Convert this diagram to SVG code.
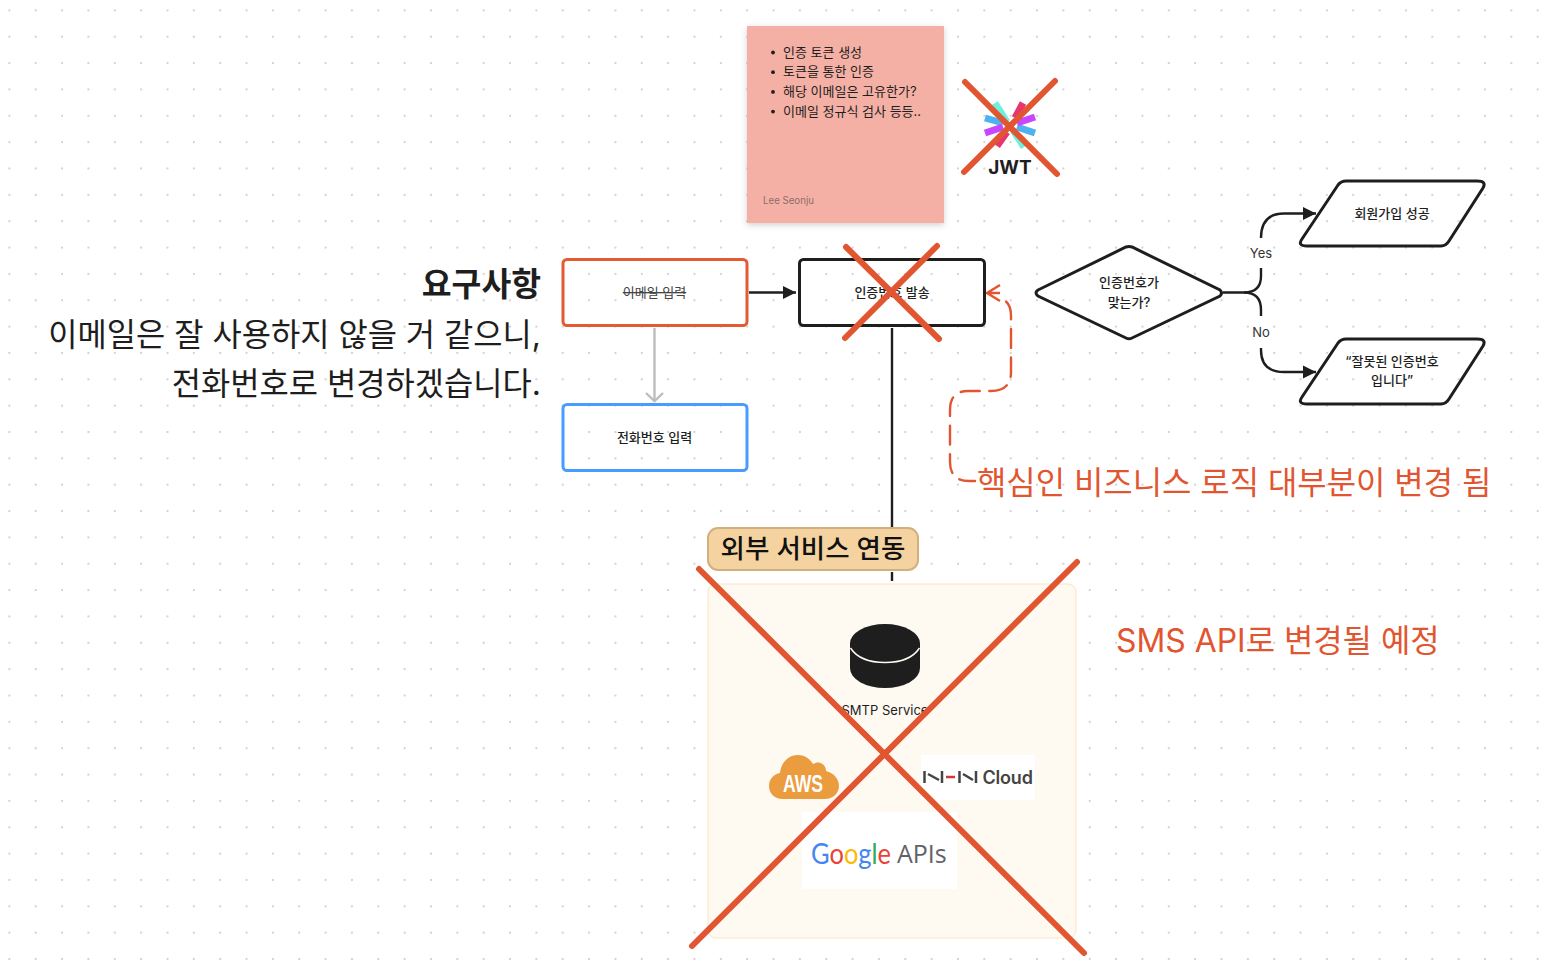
<svg xmlns="http://www.w3.org/2000/svg" width="1562" height="976" viewBox="0 0 1562 976">
<defs>
<pattern id="dots" x="8.4" y="9.4" width="26.35" height="26.35" patternUnits="userSpaceOnUse"><circle cx="1" cy="1" r="1.100" fill="#cfcfcf"/></pattern>
<filter id="sh" x="-10%" y="-10%" width="120%" height="120%"><feDropShadow dx="0" dy="2" stdDeviation="3" flood-color="#000" flood-opacity="0.18"/></filter>
<marker id="tri" markerUnits="userSpaceOnUse" markerWidth="14" markerHeight="14" refX="13" refY="7" orient="auto"><path d="M0,0.5 L13,7 L0,13.5 Z" fill="#1e1e1e"/></marker>
<marker id="grayChev" markerUnits="userSpaceOnUse" markerWidth="22" markerHeight="14" refX="11" refY="11" orient="0"><path d="M2.5,3 L11,11 L19.5,3" fill="none" stroke="#bdbdbd" stroke-width="2.400"/></marker>
</defs>
<style>
text{font-family:"Inter","Noto Sans CJK KR","Noto Sans",sans-serif;fill:#1e1e1e}
.n{font-size:13px;font-weight:500;text-anchor:middle}
.big{font-size:31.800px;font-weight:400;text-anchor:end}
.red{font-size:31.900px;font-weight:400;fill:#e15631}
.box{fill:none;stroke-width:3}
.k{stroke:#1e1e1e}
.cross{stroke:#e15631;stroke-linecap:round;fill:none}
.line{fill:none;stroke:#1e1e1e;stroke-width:2.400}
.bul{font-size:13px;font-weight:400}
.jr{stroke-width:7;fill:none}
</style>
<rect width="1562" height="976" fill="#fff"/>
<rect width="1562" height="976" fill="url(#dots)"/>

<g id="req-text">
<text x="541" y="296" class="big" style="font-weight:700;font-size:32.400px">요구사항</text>
<text x="541" y="345.500" class="big">이메일은 잘 사용하지 않을 거 같으니,</text>
<text x="541" y="394.500" class="big">전화번호로 변경하겠습니다.</text>
</g>

<g id="sticky">
<rect x="747" y="26" width="197" height="197" fill="#f5b0a5" filter="url(#sh)"/>
<circle cx="773" cy="52.500" r="1.900" fill="#1e1e1e"/><circle cx="773" cy="72.200" r="1.900" fill="#1e1e1e"/><circle cx="773" cy="91.900" r="1.900" fill="#1e1e1e"/><circle cx="773" cy="111.600" r="1.900" fill="#1e1e1e"/>
<text x="783" y="56.500" class="bul">인증 토큰 생성</text>
<text x="783" y="76.200" class="bul">토큰을 통한 인증</text>
<text x="783" y="95.900" class="bul">해당 이메일은 고유한가?</text>
<text x="783" y="115.600" class="bul">이메일 정규식 검사 등등..</text>
<text x="763" y="204" style="font-size:9.700px;fill:#8f6d68">Lee Seonju</text>
</g>

<g id="jwt">
<path class="jr" stroke="#6ef0e0" d="M995,103 L1007,122 M1013,130 L1024,147"/>
<path class="jr" stroke="#e8356f" d="M1023,103 L1015,118 M997,146 L1007,132"/>
<path class="jr" stroke="#4db3f0" d="M985,118 L1003,123 M1017,127 L1035,133"/>
<path class="jr" stroke="#c846ff" d="M985,133 L1003,127 M1035,117 L1017,123"/>
<text x="1010" y="174" text-anchor="middle" style="font-size:19px;font-weight:700">JWT</text>
</g>

<g id="connectors">
<path class="line" d="M749,292.500 H796" marker-end="url(#tri)"/>
<path d="M654.500,328 V401" fill="none" stroke="#bdbdbd" stroke-width="2.400" marker-end="url(#grayChev)"/>
<path class="line" d="M892,328 V527 M892,572 V581"/>
<path d="M1006,301.500 Q1011,306 1011,316 V372 Q1011,391 991,391 H968 Q950,391 950,410 V462 Q950,481 969,481 H975" fill="none" stroke="#e15631" stroke-width="2.400" stroke-dasharray="19 9.600" stroke-linecap="round"/>
<path d="M1000,285 L987,293 L1000,301 M987,293 H1000" fill="none" stroke="#e15631" stroke-width="2.400"/>
<path class="line" d="M1223,292.500 H1244 Q1261,292.500 1261,276 V268 M1261,238 Q1261,213.500 1284,213.500 H1316" marker-end="url(#tri)"/>
<path class="line" d="M1244,292.500 Q1261,292.500 1261,310 V316 M1261,348 V350 Q1261,372 1284,372 H1316" marker-end="url(#tri)"/>
<text x="1261" y="258" text-anchor="middle" style="font-size:13px;fill:#333">Yes</text>
<text x="1261" y="337" text-anchor="middle" style="font-size:13px;fill:#333">No</text>
</g>

<g id="email"><rect x="563" y="259.500" width="184" height="66" rx="4" class="box" stroke="#e35a33"/><text x="654.500" y="297" text-anchor="middle" text-decoration="line-through" style="font-size:13px;fill:#444">이메일 입력</text></g>
<g id="phone"><rect x="563" y="404.500" width="184" height="66" rx="4" class="box" stroke="#4a9bff"/><text x="654.500" y="442" class="n">전화번호 입력</text></g>
<g id="auth"><rect x="799.500" y="259.500" width="185" height="66" rx="4" class="box k"/><text x="892" y="297" class="n">인증번호 발송</text></g>
<g id="decision"><path d="M1038,290 L1126,247 Q1129,246 1132,247 L1220,290 Q1223,293 1220,296 L1132,338 Q1129,339.500 1126,338 L1038,296 Q1034,293 1038,290 Z" class="box k"/><text x="1129" y="287" class="n">인증번호가</text><text x="1129" y="307" class="n">맞는가?</text></g>
<g id="success"><path d="M1346,181 H1477 Q1487,181 1483,188 L1449,241 Q1446,246 1441,246 H1307 Q1297,246 1302,239 L1338,185 Q1341,181 1346,181 Z" class="box k"/><text x="1392" y="218" class="n">회원가입 성공</text></g>
<g id="fail"><path d="M1346,339 H1477 Q1487,339 1483,346 L1449,399 Q1446,404 1441,404 H1307 Q1297,404 1302,397 L1338,343 Q1341,339 1346,339 Z" class="box k"/><text x="1392" y="366" class="n">“잘못된 인증번호</text><text x="1392" y="385" class="n">입니다”</text></g>

<g id="external">
<rect x="708" y="584" width="368" height="354" rx="8" fill="#fef9f1" stroke="#fbe3c2"/>
</g>
<g id="badge"><rect x="708" y="528" width="210" height="42" rx="10" fill="#f5d3a0" stroke="#d2b07e" stroke-width="2"/><text x="813" y="558" text-anchor="middle" style="font-size:26.500px;font-weight:500;fill:#111">외부 서비스 연동</text></g>

<g id="smtp">
<path d="M850,644 V668 A35,20 0 0 0 920,668 V644 Z" fill="#1e1e1e"/>
<ellipse cx="885" cy="643.500" rx="35" ry="19.500" fill="#1e1e1e"/>
<path d="M850.500,648 Q860,662.500 885,662.500 Q910,662.500 919.500,648" fill="none" stroke="#fef9f1" stroke-width="1.500"/>
<text x="885" y="715" text-anchor="middle" style="font-size:13px">SMTP Service</text>
</g>
<g id="aws">
<path d="M783,799 C773,799 769,792 769,786 C769,779 774,774 780,773 C781,762 789,755 798,755 C805,755 810,759 813,764 C819,760 826,764 826,771 C834,773 839,779 839,786 C839,793 833,799 825,799 Z" fill="#eb9c3e"/>
<text x="803" y="792" text-anchor="middle" textLength="40" lengthAdjust="spacingAndGlyphs" style="font-family:'Liberation Sans',sans-serif;font-size:23px;font-weight:700;fill:#fff">AWS</text>
</g>
<g id="nhn">
<rect x="921" y="755" width="114" height="45" fill="#fff"/>
<path d="M924.500,771 V783 M942,771 V783 M928,774 L939,780 M959.500,771 V783 M976,771 V783 M963,774 L973,780" fill="none" stroke="#444" stroke-width="2.500"/>
<path d="M946,777 H955" stroke="#d8343f" stroke-width="2.500"/>
<text x="982.500" y="784" style="font-size:18px;font-weight:600;fill:#444;letter-spacing:-0.2px">Cloud</text>
</g>
<g id="google">
<rect x="802" y="812" width="155" height="77" fill="#fff"/>
<text x="811" y="864" textLength="80" lengthAdjust="spacingAndGlyphs" style="font-family:'Lato',sans-serif;font-size:29px"><tspan style="fill:#4285f4">G</tspan><tspan style="fill:#ea4335">o</tspan><tspan style="fill:#fbbc05">o</tspan><tspan style="fill:#4285f4">g</tspan><tspan style="fill:#34a853">l</tspan><tspan style="fill:#ea4335">e</tspan></text>
<text x="897" y="863" style="font-family:'Open Sans',sans-serif;font-size:25px;fill:#5f6368">APIs</text>
</g>

<g id="notes">
<text x="977" y="494" class="red">핵심인 비즈니스 로직 대부분이 변경 됨</text>
<text x="1116" y="652" class="red">SMS API로 변경될 예정</text>
</g>

<g id="crosses">
<path class="cross" stroke-width="6" d="M965,82 L1057,174 M1055,81 L964,172"/>
<path class="cross" stroke-width="6" d="M846,247 L939,339 M937,246 L845,338"/>
<path class="cross" stroke-width="6" d="M699,569 L1084,953 M1077,562 L692,946"/>
</g>
</svg>
